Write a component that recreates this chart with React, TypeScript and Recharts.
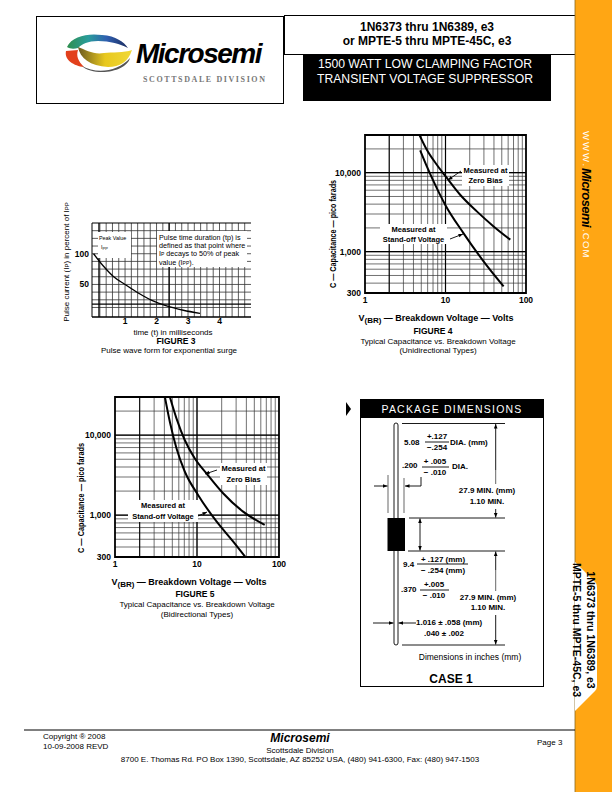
import { CartesianGrid, Line, LineChart, ReferenceArea, ReferenceLine, XAxis, YAxis } from "recharts";

const FONT = "'Liberation Sans', Arial, sans-serif";

// Figure 3 - pulse wave form
const fig3Ms = [0, 0.31, 0.63, 1, 1.42, 1.85, 2.32, 2.85, 3.38];
const fig3Percent = [100, 80, 63, 50, 36, 24, 15, 8, 3];
const fig3XTicks = [1, 2, 3, 4];
const fig3YTicks = [50, 100];
const fig3XGrid = [0.2, 0.4, 0.6, 0.8, 1, 1.2, 1.4, 1.6, 1.8, 2, 2.2, 2.4, 2.6, 2.8, 3, 3.2, 3.4, 3.6, 3.8, 4, 4.2, 4.4, 4.6, 4.8];
const fig3YGrid = [12.5, 25, 37.5, 50, 62.5, 75, 87.5, 100, 112.5, 125, 137.5];

// Figures 4 and 5 - capacitance, log-log
const logXTicks = [1, 10, 100];
const logYTicks = [300, 1000, 10000];
const logXGrid = [2, 3, 4, 5, 6, 7, 8, 9, 10, 20, 30, 40, 50, 60, 70, 80, 90];
const logYGrid = [400, 500, 600, 700, 800, 900, 1000, 2000, 3000, 4000, 5000, 6000, 7000, 8000, 9000, 10000, 20000];

const fig4ZeroVolts = [4.75, 5.86, 7.8, 10.4, 15.2, 24.5, 39.6, 63.8];
const fig4ZeroPf = [30000, 19500, 12600, 8580, 5260, 3240, 2090, 1420];
const fig4StandoffVolts = [4.84, 5.86, 7.43, 9.9, 16.7, 29.7, 52.7];
const fig4StandoffPf = [19200, 12000, 7050, 3930, 1720, 755, 364];

const fig5ZeroVolts = [4.67, 5.63, 7.11, 9.41, 13.05, 20.8, 36.5, 66.9];
const fig5ZeroPf = [30000, 16100, 8640, 5110, 3330, 1880, 1108, 757];
const fig5StandoffVolts = [4.06, 4.67, 5.63, 7.11, 10.3, 17.3, 27.5, 38.9];
const fig5StandoffPf = [30000, 14600, 6800, 3490, 1790, 834, 470, 300];

const zip = (xs: number[], ys: number[]) => xs.map((x, i) => ({ x, y: ys[i] }));
const GRID = "#333";

function PulseChart() {
  const data = zip(fig3Ms, fig3Percent);
  const tick = { fontSize: 8.5, fontWeight: 700, fontFamily: FONT, fill: "#000" };
  return (
    <div style={{ position: "absolute", left: 62, top: 218 }}>
      <LineChart width={194} height={113} margin={{ top: 5, right: 5, bottom: 0, left: 0 }}>
        <CartesianGrid stroke={GRID} strokeWidth={0.8} verticalValues={fig3XGrid} horizontalValues={fig3YGrid} />
        <XAxis type="number" dataKey="x" domain={[-0.05, 5]} ticks={fig3XTicks} interval={0} height={14} tickLine={false} tickSize={0} axisLine={{ stroke: "#000", strokeWidth: 1.5 }} tick={tick} tickMargin={1} allowDataOverflow />
        <YAxis type="number" dataKey="y" domain={[-3, 150]} ticks={fig3YTicks} interval={0} width={30} tickLine={false} tickSize={0} axisLine={{ stroke: "#000", strokeWidth: 1 }} tick={tick} tickMargin={3} allowDataOverflow />
        <ReferenceLine x={0.17} stroke="#000" strokeWidth={1.2} />
        <ReferenceLine x={2.4} stroke="#000" strokeWidth={1.2} />
        <ReferenceLine y={18} stroke="#000" strokeWidth={1.2} />
        <ReferenceLine y={150} stroke="#000" strokeWidth={1.2} />
        <Line data={data} dataKey="y" type="monotone" stroke="#000" strokeWidth={1.3} dot={false} isAnimationActive={false} />
      </LineChart>
    </div>
  );
}

function CapChart({ left, top, width, height, zero, standoff }: { left: number; top: number; width: number; height: number; zero: { x: number; y: number }[]; standoff: { x: number; y: number }[] }) {
  const tick = { fontSize: 8.5, fontWeight: 700, fontFamily: FONT, fill: "#000" };
  return (
    <div style={{ position: "absolute", left: left - 40, top: top - 5 }}>
      <LineChart width={width + 50} height={height + 21} margin={{ top: 5, right: 10, bottom: 0, left: 0 }}>
        <CartesianGrid stroke={GRID} strokeWidth={0.7} verticalValues={logXGrid} horizontalValues={logYGrid} />
        <XAxis type="number" dataKey="x" scale="log" domain={[1, 100]} ticks={logXTicks} interval={0} height={16} tickLine={false} tickSize={0} axisLine={false} tick={tick} tickMargin={4} allowDataOverflow />
        <YAxis type="number" dataKey="y" scale="log" domain={[300, 30000]} ticks={logYTicks} interval={0} width={40} tickLine={false} tickSize={0} axisLine={false} tick={tick} tickMargin={4} tickFormatter={(v: number) => v.toLocaleString("en-US")} allowDataOverflow />
        <ReferenceLine x={2} stroke="#000" strokeWidth={1} />
        <ReferenceLine x={10} stroke="#000" strokeWidth={1.2} />
        <ReferenceLine y={1000} stroke="#000" strokeWidth={1.2} />
        <ReferenceLine y={10000} stroke="#000" strokeWidth={1.2} />
        <ReferenceArea x1={1} x2={100} y1={300} y2={30000} fill="none" stroke="#000" strokeWidth={1.8} />
        <Line data={zero} dataKey="y" type="monotone" stroke="#000" strokeWidth={2} dot={false} isAnimationActive={false} />
        <Line data={standoff} dataKey="y" type="monotone" stroke="#000" strokeWidth={2} dot={false} isAnimationActive={false} />
      </LineChart>
    </div>
  );
}

function T({ x, y, size = 8, bold, italic, anchor = "start", fill = "#000", rotate, spacing, family, fit, children }: any) {
  return (
    <text
      x={x}
      y={y}
      fontSize={size}
      fontWeight={bold ? 700 : 400}
      fontStyle={italic ? "italic" : "normal"}
      textAnchor={anchor}
      dominantBaseline="central"
      fill={fill}
      letterSpacing={spacing}
      fontFamily={family || FONT}
      textLength={fit}
      lengthAdjust={fit ? "spacingAndGlyphs" : undefined}
      transform={rotate ? `rotate(${rotate} ${x} ${y})` : undefined}
    >
      {children}
    </text>
  );
}

function Arrow({ x1, y1, x2, y2 }: { x1: number; y1: number; x2: number; y2: number }) {
  const a = Math.atan2(y2 - y1, x2 - x1);
  const h = 4.5;
  const w = 1.8;
  const bx = x2 - h * Math.cos(a);
  const by = y2 - h * Math.sin(a);
  const pts = `${x2},${y2} ${bx - w * Math.sin(a)},${by + w * Math.cos(a)} ${bx + w * Math.sin(a)},${by - w * Math.cos(a)}`;
  return (
    <g>
      <line x1={x1} y1={y1} x2={x2} y2={y2} stroke="#000" strokeWidth={0.9} />
      <polygon points={pts} fill="#000" />
    </g>
  );
}

function Note({ x, y, w, h, lines, size = 7.5 }: { x: number; y: number; w: number; h: number; lines: string[]; size?: number }) {
  return (
    <g>
      <rect x={x} y={y} width={w} height={h} fill="#fff" />
      {lines.map((l, i) => (
        <T key={l} x={x + w / 2} y={y + (h / lines.length) * (i + 0.5)} size={size} bold anchor="middle">{l}</T>
      ))}
    </g>
  );
}

function Logo() {
  return (
    <g>
      <defs>
        <linearGradient id="topArc" x1="0" x2="1" y1="0" y2="0">
          <stop offset="0" stopColor="#2f8f4e" />
          <stop offset="0.35" stopColor="#2a9c9c" />
          <stop offset="0.65" stopColor="#2f5fb0" />
          <stop offset="1" stopColor="#1c2c60" />
        </linearGradient>
        <linearGradient id="lowArc" x1="0" x2="1" y1="0" y2="0">
          <stop offset="0" stopColor="#6b5a20" />
          <stop offset="0.5" stopColor="#e8c81e" />
          <stop offset="1" stopColor="#f0d838" />
        </linearGradient>
      </defs>
      <path d="M67 47 C72 36 88 33 102 35 C116 36 124 42 128 48 C120 44 110 41 98 41 C88 41 82 44 78 48 C74 49 70 49 67 47 Z" fill="url(#topArc)" />
      <path d="M66 51 L78 50 C76 56 78 61 84 67 C74 66 64 60 66 51 Z" fill="#e2401c" />
      <path d="M78 47 C80 58 90 66 108 67 C120 67 128 62 132 50 C124 53 112 52 104 53 C94 55 86 50 78 47 Z" fill="url(#lowArc)" />
      <path d="M82 66 C96 74 118 72 130 58 C128 66 116 72 102 72 C94 72 86 70 82 66 Z" fill="#555" />
    </g>
  );
}

function Page() {
  return (
    <svg width={612} height={792} style={{ position: "absolute", left: 0, top: 0 }}>
      {/* header */}
      <rect x={36.5} y={16.5} width={247} height={87} fill="none" stroke="#000" strokeWidth={1} />
      <rect x={284.5} y={15.5} width={295} height={39} fill="#fff" stroke="#000" strokeWidth={1} />
      <rect x={303} y={55} width={248} height={46} fill="#000" />
      <T x={427} y={27} size={12} bold anchor="middle">1N6373 thru 1N6389, e3</T>
      <T x={427} y={41} size={12} bold anchor="middle">or MPTE-5 thru MPTE-45C, e3</T>
      <T x={425} y={64} size={12.2} anchor="middle" fill="#fff">1500 WATT LOW CLAMPING FACTOR</T>
      <T x={425} y={79} size={12.2} anchor="middle" fill="#fff">TRANSIENT VOLTAGE SUPPRESSOR</T>
      <Logo />
      <T x={136} y={53} size={28} bold italic spacing={-1.5}>Microsemi</T>
      <T x={143} y={79} size={8} bold spacing={1.6} fill="#777" family="'Liberation Serif', serif">SCOTTSDALE DIVISION</T>

      {/* sidebar */}
      <rect x={575} y={0} width={37} height={792} fill="#FFA614" />
      <line x1={575} y1={0} x2={575} y2={792} stroke="#8a6a20" strokeWidth={0.8} />
      <path d="M575 562 L596 583 Q597 585 597 588 L597 686 Q597 689 595 691 L575 711 Z" fill="#fff" />
      <T x={590.5} y={630} size={10.5} bold anchor="middle" rotate={90}>1N6373 thru 1N6389, e3</T>
      <T x={577} y={630} size={10.5} bold anchor="middle" rotate={90}>MPTE-5 thru MPTE-45C, e3</T>
      <T x={586} y={131} size={9.5} fill="#fff" rotate={90} spacing={2}>WWW.</T>
      <T x={586} y={168} size={13} bold italic rotate={90} spacing={-0.6}>Microsemi</T>
      <T x={586} y={229} size={9.5} fill="#fff" rotate={90} spacing={1.2}>.COM</T>

      {/* figure 3 */}
      <rect x={98} y={232} width={33} height={26} fill="#fff" />
      <T x={99} y={238} size={5.4}>Peak Value</T>
      <T x={101} y={247} size={5.4}>I<tspan fontSize={4} dy={1}>PP</tspan></T>
      <rect x={157} y={231} width={90} height={36} fill="#fff" />
      <T x={159} y={237} size={7.2}>Pulse time duration (tp) is</T>
      <T x={159} y={245} size={7.2}>defined as that point where</T>
      <T x={159} y={253} size={7.2}>I<tspan fontSize={5} dy={1}>P</tspan><tspan dy={-1}> decays to 50% of peak</tspan></T>
      <T x={159} y={262} size={7.2}>value (I<tspan fontSize={5} dy={1}>PP</tspan><tspan dy={-1}>).</tspan></T>
      <T x={66} y={262} size={8} anchor="middle" rotate={-90}>Pulse current (I<tspan fontSize={6} dy={1}>P</tspan><tspan dy={-1}>) in percent of I</tspan><tspan fontSize={6} dy={1}>PP</tspan></T>
      <T x={173} y={332} size={8} anchor="middle">time (t) in milliseconds</T>
      <T x={176} y={341} size={8.5} bold anchor="middle">FIGURE 3</T>
      <T x={169} y={350} size={8} anchor="middle">Pulse wave form for exponential surge</T>

      {/* figure 4 */}
      <Note x={462} y={165} w={47} h={21} lines={["Measured at", "Zero Bias"]} />
      <Note x={380} y={224} w={67} h={20} lines={["Measured at", "Stand-off Voltage"]} />
      <Arrow x1={461} y1={171} x2={448} y2={180} />
      <Arrow x1={450} y1={239} x2={463} y2={234} />
      <T x={333} y={234} size={8.5} bold anchor="middle" rotate={-90} fit={108}>C — Capacitance — pico farads</T>
      <T x={436} y={318} size={9} bold anchor="middle">V<tspan fontSize={8} dy={2}>(BR)</tspan><tspan dy={-2}> — Breakdown Voltage — Volts</tspan></T>
      <T x={433} y={331} size={8.5} bold anchor="middle">FIGURE 4</T>
      <T x={438} y={341} size={8} anchor="middle">Typical Capacitance vs. Breakdown Voltage</T>
      <T x={438} y={350} size={8} anchor="middle">(Unidirectional Types)</T>

      {/* figure 5 */}
      <Note x={220} y={463} w={47} h={22} lines={["Measured at", "Zero Bias"]} />
      <Note x={128} y={500} w={70} h={22} lines={["Measured at", "Stand-off Voltage"]} />
      <Arrow x1={217} y1={470} x2={205} y2={474} />
      <Arrow x1={198} y1={516} x2={207} y2={512} />
      <T x={81} y={498} size={8.5} bold anchor="middle" rotate={-90} fit={110}>C — Capacitance — pico farads</T>
      <T x={189} y={582} size={9} bold anchor="middle">V<tspan fontSize={8} dy={2}>(BR)</tspan><tspan dy={-2}> — Breakdown Voltage — Volts</tspan></T>
      <T x={195} y={594} size={8.5} bold anchor="middle">FIGURE 5</T>
      <T x={197} y={604} size={8} anchor="middle">Typical Capacitance vs. Breakdown Voltage</T>
      <T x={197} y={614} size={8} anchor="middle">(Bidirectional Types)</T>

      {/* package dimensions */}
      <polygon points="346,402 351,409 346,416" fill="#000" />
      <rect x={360.5} y={399.5} width={183} height={287} fill="#fff" stroke="#000" strokeWidth={1} />
      <rect x={360} y={399} width={184} height={19} fill="#000" />
      <T x={452} y={408.5} size={10.5} anchor="middle" fill="#fff" spacing={1.2}>PACKAGE DIMENSIONS</T>
      <rect x={394} y={423} width={4} height={222} rx={2} fill="#fff" stroke="#000" strokeWidth={0.9} />
      <rect x={387.5} y={518} width={17.5} height={33} fill="#000" />
      <g stroke="#000" strokeWidth={0.9}>
        <line x1={402} y1={423.5} x2={505} y2={423.5} />
        <line x1={409} y1={518} x2={505} y2={518} />
        <line x1={408} y1={551} x2={505} y2={551} />
        <line x1={402} y1={645} x2={505} y2={645} />
        <line x1={388} y1={475} x2={388} y2={513} strokeWidth={0.6} />
        <line x1={404} y1={478} x2={404} y2={513} strokeWidth={0.6} />
        <line x1={421} y1={477} x2={421} y2={486} />
        <line x1={417} y1={564} x2={468} y2={564} />
        <line x1={420} y1={590} x2={449} y2={590} />
        <line x1={425} y1={442} x2={449} y2={442} />
        <line x1={422} y1={467} x2={449} y2={467} />
      </g>
      <Arrow x1={495.7} y1={470} x2={495.7} y2={424} />
      <line x1={495.7} y1={470} x2={495.7} y2={484} stroke="#000" strokeWidth={0.6} />
      <Arrow x1={495.7} y1={509} x2={495.7} y2={517.5} />
      <Arrow x1={495.7} y1={570} x2={495.7} y2={551.5} />
      <line x1={495.7} y1={570} x2={495.7} y2={591} stroke="#000" strokeWidth={0.6} />
      <Arrow x1={495.7} y1={615} x2={495.7} y2={644.5} />
      <Arrow x1={420} y1={535} x2={420} y2={518.5} />
      <Arrow x1={420} y1={535} x2={420} y2={550.5} />
      <Arrow x1={374} y1={486} x2={387.5} y2={486} />
      <Arrow x1={421} y1={486} x2={405} y2={486} />
      <Arrow x1={373} y1={623} x2={393.5} y2={623} />
      <Arrow x1={416} y1={623} x2={398.5} y2={623} />
      <T x={404} y={442} size={8} bold>5.08</T>
      <T x={437} y={436.5} size={8} bold anchor="middle">+.127</T>
      <T x={437} y={447.5} size={8} bold anchor="middle">−.254</T>
      <T x={450} y={442} size={8} bold>DIA. (mm)</T>
      <T x={402} y={465} size={8} bold>.200</T>
      <T x={435} y={461.5} size={8} bold anchor="middle">+ .005</T>
      <T x={435} y={472} size={8} bold anchor="middle">− .010</T>
      <T x={452} y={466} size={8} bold>DIA.</T>
      <T x={487} y={490} size={8} bold anchor="middle">27.9 MIN. (mm)</T>
      <T x={487} y={501} size={8} bold anchor="middle">1.10 MIN.</T>
      <T x={403} y={564} size={8} bold>9.4</T>
      <T x={443} y={559} size={8} bold anchor="middle">+ .127 (mm)</T>
      <T x={443} y={570} size={8} bold anchor="middle">− .254 (mm)</T>
      <T x={401} y={589} size={8} bold>.370</T>
      <T x={434} y={584} size={8} bold anchor="middle">+.005</T>
      <T x={434} y={595} size={8} bold anchor="middle">− .010</T>
      <T x={488} y={597} size={8} bold anchor="middle">27.9 MIN. (mm)</T>
      <T x={488} y={607} size={8} bold anchor="middle">1.10 MIN.</T>
      <T x={416} y={622} size={8} bold>1.016 ± .058 (mm)</T>
      <T x={444} y={633} size={8} bold anchor="middle">.040 ± .002</T>
      <T x={470} y={657} size={8.5} anchor="middle">Dimensions in inches (mm)</T>
      <T x={451} y={679} size={12} bold anchor="middle">CASE 1</T>

      {/* footer */}
      <line x1={24} y1={730} x2={575} y2={730} stroke="#000" strokeWidth={1} />
      <T x={43} y={736} size={8}>Copyright ® 2008</T>
      <T x={43} y={746} size={8}>10-09-2008 REVD</T>
      <T x={300} y={738} size={12} bold italic anchor="middle">Microsemi</T>
      <T x={300} y={750} size={8} anchor="middle">Scottsdale Division</T>
      <T x={300} y={759} size={8} anchor="middle">8700 E. Thomas Rd. PO Box 1390, Scottsdale, AZ 85252 USA, (480) 941-6300, Fax: (480) 947-1503</T>
      <T x={537} y={742} size={8}>Page 3</T>
    </svg>
  );
}

export default function App() {
  return (
    <div style={{ position: "absolute", left: 0, top: 0, width: 612, height: 792, background: "#fff", overflow: "hidden" }}>
      <PulseChart />
      <CapChart left={365} top={135} width={161} height={158} zero={zip(fig4ZeroVolts, fig4ZeroPf)} standoff={zip(fig4StandoffVolts, fig4StandoffPf)} />
      <CapChart left={115} top={397} width={164} height={160} zero={zip(fig5ZeroVolts, fig5ZeroPf)} standoff={zip(fig5StandoffVolts, fig5StandoffPf)} />
      <Page />
    </div>
  );
}
